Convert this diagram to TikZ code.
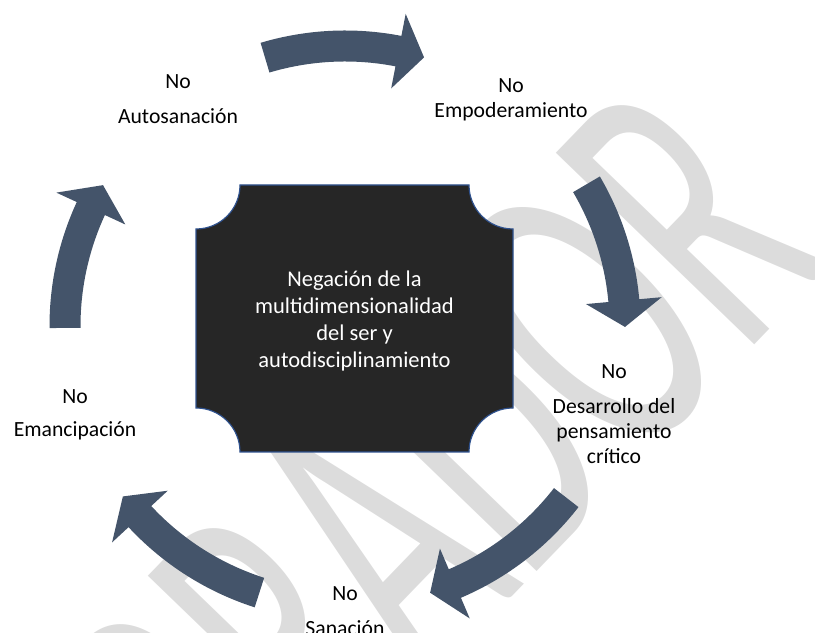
\documentclass[tikz,border=0pt]{standalone}
\usepackage{fontspec}
\setmainfont{Carlito}
\newfontfamily\draftfont{Carlito}

\definecolor{arrowslate}{HTML}{44546A}
\definecolor{boxdark}{HTML}{262626}
\definecolor{boxedge}{HTML}{2F528F}
\definecolor{draftgray}{HTML}{DCDCDC}

\tikzset{
    cyclearrow/.style={fill=arrowslate},
    steplabel/.style={align=center, inner sep=0pt, font=\fontsize{13}{15}\selectfont},
    corelabel/.style={align=center, inner sep=0pt, text=white, font=\fontsize{13.5}{16.2}\selectfont},
    draftmark/.style={text=draftgray, inner sep=0pt, anchor=base, rotate=46, xscale=0.57,
        font=\draftfont\fontsize{258}{258}\selectfont}
}

\begin{document}
\begin{tikzpicture}[x=0.6pt, y=0.6pt]
    \useasboundingbox (0,0) rectangle (815,633);
    \clip (0,0) rectangle (815,633);

    \node[draftmark] (draft) at (435.7,-42.7) {BORRADOR};

    \begin{scope}[shift={(345,307)}]
        \foreach \a/\b in {106.6/73.6, 30.4/-0.2, -37.8/-72.3, -107.8/-142.5, 180.4/149.8} {
            \pgfmathsetmacro{\h}{\b+5.4}
            \fill[cyclearrow] (\a:295.5) arc[start angle=\a, end angle=\h, radius=295.5]
                -- (\h:318) -- (\b:280) -- (\h:242) -- (\h:264.5)
                arc[start angle=\h, end angle=\a, radius=264.5] -- cycle;
        }
    \end{scope}

    \filldraw[fill=boxdark, draw=boxedge, line width=0.7pt]
        (196,404) arc[start angle=270, end angle=360, radius=44] -- (469,448)
        arc[start angle=180, end angle=270, radius=44] -- (513,225)
        arc[start angle=90, end angle=180, radius=44] -- (240,181)
        arc[start angle=0, end angle=90, radius=44] -- cycle;
    \node[corelabel] (core) at (354.5,311.5)
        {Negación de la\\multidimensionalidad\\del ser y\\autodisciplinamiento};

    \node[steplabel] (autosanacion) at (178,534) {No\\[6pt]Autosanación};
    \node[steplabel] (empoderamiento) at (511,533.5) {No\\Empoderamiento};
    \node[steplabel] (desarrollo) at (614,218.5) {No\\[6pt]Desarrollo del\\pensamiento\\crítico};
    \node[steplabel] (sanacion) at (345,22) {No\\[6pt]Sanación};
    \node[steplabel] (emancipacion) at (75,218) {No\\[5pt]Emancipación};

\end{tikzpicture}
\end{document}
